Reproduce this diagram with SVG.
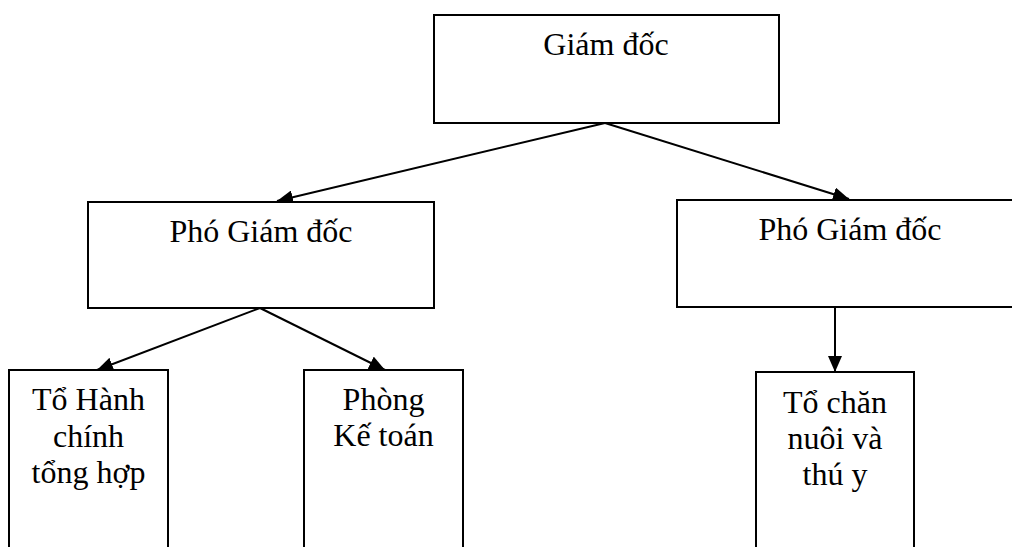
<svg xmlns="http://www.w3.org/2000/svg" width="1012" height="547" viewBox="0 0 1012 547">
<style>
.box{fill:#fff;stroke:#000;stroke-width:2}
.t{font-family:"Liberation Serif","Times New Roman",serif;font-size:32px;fill:#000;text-anchor:middle}
.c{stroke:#000;stroke-width:2;fill:none}
</style>
<defs>
<marker id="ah" markerUnits="userSpaceOnUse" markerWidth="18" markerHeight="14" refX="16" refY="7" orient="auto">
<path d="M0,0 L16,7 L0,14 Z" fill="#000"/>
</marker>
</defs>
<rect width="1012" height="547" fill="#fff"/>
<g id="connectors">
<line class="c" x1="605" y1="123" x2="277" y2="201" marker-end="url(#ah)"/>
<line class="c" x1="605" y1="123" x2="849" y2="199" marker-end="url(#ah)"/>
<line class="c" x1="260" y1="308" x2="97" y2="370" marker-end="url(#ah)"/>
<line class="c" x1="260" y1="308" x2="385" y2="370" marker-end="url(#ah)"/>
<line class="c" x1="835" y1="307" x2="835" y2="372" marker-end="url(#ah)"/>
</g>
<g id="giam-doc">
<rect class="box" x="434" y="15" width="345" height="108"/>
<text class="t" x="606" y="55">Giám đốc</text>
</g>
<g id="pho-giam-doc-1">
<rect class="box" x="88" y="202" width="346" height="106"/>
<text class="t" x="261" y="242">Phó Giám đốc</text>
</g>
<g id="pho-giam-doc-2">
<rect class="box" x="677" y="200" width="360" height="107"/>
<text class="t" x="850" y="240">Phó Giám đốc</text>
</g>
<g id="to-hanh-chinh">
<rect class="box" x="9" y="370" width="159" height="190"/>
<text class="t" x="88.5" y="410">Tổ Hành</text>
<text class="t" x="88.5" y="446.5">chính</text>
<text class="t" x="88.5" y="482.5">tổng hợp</text>
</g>
<g id="phong-ke-toan">
<rect class="box" x="304" y="370" width="159" height="190"/>
<text class="t" x="383.5" y="410">Phòng</text>
<text class="t" x="383.5" y="446">Kế toán</text>
</g>
<g id="to-chan-nuoi">
<rect class="box" x="756" y="372" width="158" height="190"/>
<text class="t" x="835" y="413">Tổ chăn</text>
<text class="t" x="835" y="449">nuôi và</text>
<text class="t" x="835" y="485">thú y</text>
</g>
</svg>
